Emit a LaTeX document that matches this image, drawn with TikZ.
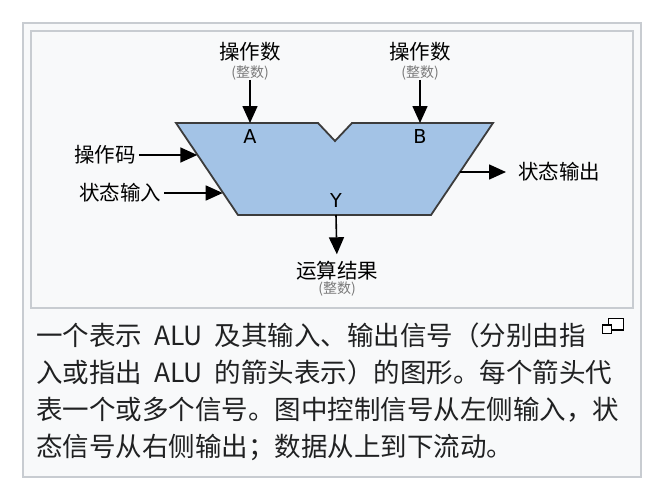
\documentclass[tikz,border=0pt]{standalone}
\usepackage{fontspec}
\setmainfont{Noto Sans CJK SC}
\newfontfamily\dv{DejaVu Sans}
\usetikzlibrary{arrows.meta}
\definecolor{frameg}{HTML}{C8CCD1}
\definecolor{bgc}{HTML}{F8F9FA}
\definecolor{alublue}{HTML}{A3C3E6}
\definecolor{alued}{HTML}{3C3C3C}
\definecolor{capc}{HTML}{202122}
\definecolor{subg}{HTML}{7A7A7A}
\begin{document}
\begin{tikzpicture}[x=1pt,y=-1pt,
  arr/.style={-{Triangle[length=17pt,width=15pt]}, line width=1.6pt, black},
  lbl/.style={inner sep=0pt, font=\fontsize{20.5pt}{24pt}\selectfont, text=black},
  sub/.style={inner sep=0pt, font=\fontsize{14pt}{16pt}\selectfont, text=subg},
  port/.style={inner sep=0pt, font=\dv\fontsize{19.2pt}{22pt}\selectfont, text=black},
  capline/.style={inner sep=0pt, anchor=base west, font=\fontsize{26.5pt}{32pt}\selectfont, text=capc},
  frame/.style={draw=frameg, line width=2pt, fill=bgc}
]
\useasboundingbox (0,0) rectangle (662,488);
% frames
\draw[frame] (23,23) rectangle (641,477);
\draw[frame] (31,31) rectangle (633,308);
% ALU body
\draw[alued, fill=alublue, line width=1.8pt, line join=miter]
  (176,123) -- (318,123) -- (335,141) -- (352,123) -- (493,123)
  -- (431,215) -- (238,215) -- cycle;
% port letters
\node[port] (pA) at (250,136.3) {A};
\node[port] (pB) at (420,136.3) {B};
\node[port] (pY) at (336,200) {Y};
% edge coordinates
\coordinate (inA) at (250,123);
\coordinate (inB) at (420,123);
\coordinate (inOp) at (197.3,155);
\coordinate (inSt) at (222.7,193);
\coordinate (outSt) at (460.3,172);
\coordinate (outY) at (336,215);
% labels
\node[lbl] (opA) at (250,52) {操作数};
\node[sub] (subA) at (250,72.5) {(整数)};
\node[lbl] (opB) at (420,52) {操作数};
\node[sub] (subB) at (420,72.5) {(整数)};
\node[lbl, inner xsep=3pt] (opc) at (105,155) {操作码};
\node[lbl, inner xsep=3pt] (stin) at (120,193) {状态输入};
\node[lbl, anchor=west] (stout) at (518,172) {状态输出};
\node[lbl] (res) at (337,271) {运算结果};
\node[sub] (subR) at (337,289) {(整数)};
% connectors
\draw[arr] (subA.south) -- (inA);
\draw[arr] (subB.south) -- (inB);
\draw[arr] (opc.east) -- (inOp);
\draw[arr] (stin.east) -- (inSt);
\draw[arr, shorten >=12pt] (outSt) -- (stout.west);
\draw[arr, shorten >=7pt] (outY) -- (res.north);
% caption
\node[capline] (c1) at (36,345.8) {一个表示\hspace{12pt}ALU\hspace{12pt}及其输入、输出信号（分别由指};
\node[capline] (c2) at (36,382.3) {入或指出\hspace{12pt}ALU\hspace{12pt}的箭头表示）的图形。每个箭头代};
\node[capline] (c3) at (36,419.3) {表一个或多个信号。图中控制信号从左侧输入，状};
\node[capline] (c4) at (36,456.3) {态信号从右侧输出；数据从上到下流动。};
% enlarge icon
\draw[black, line width=1.3pt, fill=white] (608.3,318.3) rectangle (623.3,330);
\draw[black, line width=1.3pt, fill=white] (602.3,325) rectangle (611.7,333.3);
\end{tikzpicture}
\end{document}
